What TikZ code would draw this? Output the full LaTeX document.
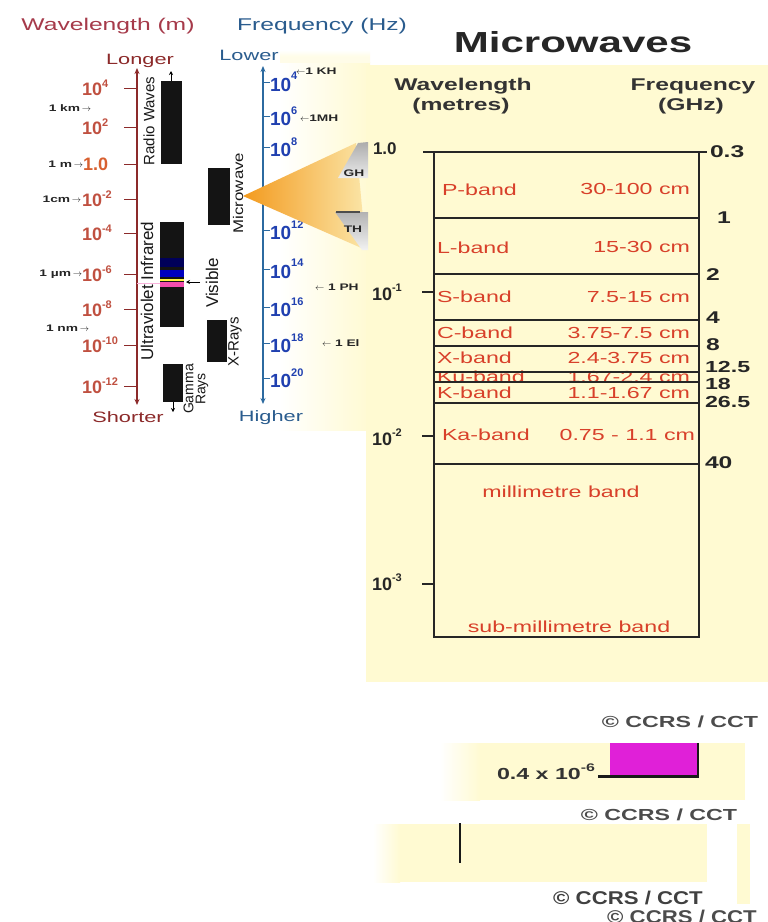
\documentclass[tikz,border=0pt]{standalone}
\usepackage{fontspec}
\setmainfont{Liberation Sans}
\newfontfamily\fsw{Liberation Sans}[FakeStretch=1.45]
\newfontfamily\fsm{Liberation Sans}[FakeStretch=1.2]
\usetikzlibrary{arrows.meta}
\newcommand\myfz[1]{\fontsize{#1}{#1}\selectfont}
\newcommand\mysup[2]{\raisebox{#1}{\myfz{11}#2}}
\definecolor{wlred}{HTML}{A63A4A}
\definecolor{wlaxis}{HTML}{8C2A2A}
\definecolor{wlnum}{HTML}{C05040}
\definecolor{wlone}{HTML}{D86030}
\definecolor{fqblue}{HTML}{2A5C8E}
\definecolor{fqaxis}{HTML}{2C6AA0}
\definecolor{fqnum}{HTML}{2040B0}
\definecolor{pale}{HTML}{FFFAD2}
\definecolor{bandred}{HTML}{D8402A}
\definecolor{orng}{HTML}{F39A1E}
\definecolor{orpale}{HTML}{FBE6A8}
\definecolor{mag}{HTML}{E020D8}
\tikzset{
  wlnumst/.style={anchor=west, text=wlnum, font=\myfz{18}\bfseries},
  fqnumst/.style={anchor=west, text=fqnum, font=\myfz{19}\bfseries},
  smallst/.style={font=\fsw\myfz{9.5}\bfseries, text=black!85},
  bandst/.style={text=bandred, font=\fsw\myfz{16}},
  gzst/.style={anchor=west, font=\fsw\myfz{17}\bfseries, text=black!85},
  boxline/.style={line width=1.6pt, black!85},
  copyst/.style={font=\fsw\myfz{16}\bfseries, text=black!70},
  barst/.style={fill=black!92},
  rotst/.style={rotate=90, text=black!90},
  headst/.style={font=\fsw\myfz{17}\bfseries, text=black!80},
  tips/.style={{Stealth[length=6pt,width=5pt]}-{Stealth[length=6pt,width=5pt]}}
}
\begin{document}
\begin{tikzpicture}[x=1pt,y=-1pt, every node/.style={inner sep=0pt, outer sep=0pt}]
\useasboundingbox (0,0) rectangle (768,922);
\fill[white] (0,0) rectangle (768,922);
% backgrounds
\shade[left color=white, right color=pale] (280,62) rectangle (370,430);
\shade[top color=white, bottom color=pale!50!white, middle color=pale!50!white] (280,50) rectangle (370,62);
\fill[pale] (366,65) rectangle (768,682);

% ---------- wavelength axis ----------
\node[text=wlred, font=\fsw\myfz{17}] (wlt) at (108,26) {Wavelength (m)};
\node[text=fqblue, font=\fsw\myfz{17}] (fqt) at (322,26) {Frequency (Hz)};
\node[text=wlaxis, font=\fsw\myfz{15}] (longer) at (140,61) {Longer};
\node[text=wlaxis, font=\fsw\myfz{15}] (shorter) at (128,417) {Shorter};
\node[text=fqblue, font=\fsw\myfz{15}] (lower) at (249,55) {Lower};
\node[text=fqblue, font=\fsw\myfz{15}] (higher) at (271,418) {Higher};

\coordinate (wltop) at (137,68);
\coordinate (wlbot) at (137,405);
\draw[wlaxis, line width=1.2pt, tips] (wltop) -- (wlbot);
\foreach \y/\e in {88/4,127/2,199/-2,233/-4,274/-6,309/-8,345/-10,386/-12} {
  \draw[wlaxis, line width=1pt] (124,\y) -- (137,\y);
  \node[wlnumst] (wl\e) at (82,\y) {10\mysup{0.45em}{\e}};
}
\draw[wlaxis, line width=1pt] (124,164) -- (137,164);
\node[wlnumst, text=wlone] (wlone) at (83,164) {1.0};

\node[smallst, anchor=east] (km) at (91,108) {1 km\,$\rightarrow$};
\node[smallst, anchor=east] (m) at (83,164) {1 m\,$\rightarrow$};
\node[smallst, anchor=east] (cm) at (81,199) {1cm\,$\rightarrow$};
\node[smallst, anchor=east] (um) at (82,274) {1 µm\,$\rightarrow$};
\node[smallst, anchor=east] (nm) at (89,328) {1 nm\,$\rightarrow$};

% bars
\fill[barst] (161,81) rectangle (182,164);
\coordinate (radtop) at (171,81);
\coordinate (radarr) at (171,71);
\draw[line width=0.9pt, -{Stealth[length=4pt,width=4pt]}] (radtop) -- (radarr);
\node[rotst, font=\myfz{15}] (radio) at (149,121) {Radio Waves};

\fill[barst] (160,222) rectangle (184,327);
\fill[blue!35!black] (160,258) rectangle (184,267);
\fill[blue!75!black] (160,270) rectangle (184,277);
\fill[yellow!75] (160,278.5) rectangle (184,281);
\fill[magenta!70] (160,282) rectangle (184,286.5);
\draw[magenta!30, line width=1pt] (137,283) -- (160,283);
\node[rotst, font=\myfz{17}] (uvir) at (147,291) {Ultraviolet Infrared};
\coordinate (visA) at (200,282);
\coordinate (visB) at (186,282);
\draw[line width=0.9pt, -{Stealth[length=4pt,width=4pt]}] (visA) -- (visB);
\node[rotst, font=\myfz{17}] (vis) at (212,283) {Visible};

\fill[barst] (207,320) rectangle (227,362);
\node[rotst, font=\myfz{15}] (xray) at (235,342) {X-Rays};

\fill[barst] (163,364) rectangle (183,402);
\coordinate (gbot) at (173,402);
\coordinate (garr) at (173,412);
\draw[line width=0.9pt, -{Stealth[length=4pt,width=4pt]}] (gbot) -- (garr);
\node[rotst, font=\myfz{14}, align=center] (gamma) at (196,389) {Gamma\\[-2pt]Rays};

\fill[barst] (208,168) rectangle (230,225);
\node[rotst, font=\fsm\myfz{14}] (micro) at (238,193) {Microwave};

% ---------- frequency axis ----------
\coordinate (fqtop) at (263,66);
\coordinate (fqbot) at (263,404);
\draw[fqaxis, line width=1.2pt, tips] (fqtop) -- (fqbot);
\foreach \y/\e in {82/4,116/6,147/8,189/10,230/12,269/14,307/16,343/18,378/20} {
  \draw[fqaxis, line width=1pt] (263,\y) -- (270,\y);
  \node[fqnumst] (fq\e) at (270,\y) {10\mysup{0.6em}{\e}};
}
\node[smallst, anchor=west] (khz) at (296,71) {$\leftarrow$1 KH};
\node[smallst, anchor=west] (mhz) at (300,118) {$\leftarrow$1MH};
\node[smallst, anchor=west] (phz) at (315,287) {$\leftarrow$ 1 PH};
\node[smallst, anchor=west] (ehz) at (322,343) {$\leftarrow$ 1 El};

% big arrow
\shade[left color=orng, right color=orpale] (243,196) -- (356,143) -- (366,250) -- cycle;
\shade[top color=gray!65, bottom color=gray!15] (338,178) -- (358,143) -- (368,142) -- (368,178) -- cycle;
\shade[top color=gray!60, bottom color=gray!10] (335,212) -- (368,212) -- (368,250) -- (362,250) -- cycle;
\draw[black!70, line width=1.2pt] (336,212) -- (360,212);
\node[smallst] (ghz) at (354,173) {GH};
\node[smallst] (thz) at (353,229) {TH};

% ---------- microwave panel ----------
\node[font=\fsw\myfz{29}\bfseries, text=black!85] (title) at (573,42) {Microwaves};
\node[headst] (wlh1) at (463,86) {Wavelength};
\node[headst] (wlh2) at (461,106) {(metres)};
\node[headst] (fqh1) at (693,86) {Frequency};
\node[headst] (fqh2) at (691,106) {(GHz)};

% band labels
\node[bandst, anchor=west] (p) at (442,190) {P-band};
\node[bandst, anchor=east] (pw) at (690,189) {30-100 cm};
\node[bandst, anchor=west] (l) at (437,248) {L-band};
\node[bandst, anchor=east] (lw) at (690,247) {15-30 cm};
\node[bandst, anchor=west] (s) at (437,297) {S-band};
\node[bandst, anchor=east] (sw) at (690,297) {7.5-15 cm};
\node[bandst, anchor=west] (c) at (437,333) {C-band};
\node[bandst, anchor=east] (cw) at (690,333) {3.75-7.5 cm};
\node[bandst, anchor=west] (x) at (437,358) {X-band};
\node[bandst, anchor=east] (xw) at (690,358) {2.4-3.75 cm};
\node[bandst, anchor=west] (ku) at (437,377) {Ku-band};
\node[bandst, anchor=east] (kuw) at (690,377) {1.67-2.4 cm};
\node[bandst, anchor=west] (k) at (437,393) {K-band};
\node[bandst, anchor=east] (kw) at (690,393) {1.1-1.67 cm};
\node[bandst, anchor=west] (ka) at (442,435) {Ka-band};
\node[bandst, anchor=east] (kaw) at (695,435) {0.75 - 1.1 cm};
\node[bandst] (mm) at (561,492) {millimetre band};
\node[bandst] (smm) at (569,627) {sub-millimetre band};

% box
\coordinate (bTL) at (434,152);
\coordinate (bTR) at (699,152);
\coordinate (bBL) at (434,637);
\coordinate (bBR) at (699,637);
\draw[boxline] (423,152) -- (707,152);
\draw[boxline] (bTL) -- (bBL) -- (bBR) -- (bTR);
\foreach \y in {218,274,320,346,372,382,403,464} {
  \draw[boxline] (434,\y) -- (699,\y);
}
\foreach \y in {292,436,584} {
  \draw[boxline] (422,\y) -- (434,\y);
}
\node[anchor=west, font=\myfz{17}\bfseries, text=black!85] (w0) at (373,149) {1.0};
\node[anchor=west, font=\myfz{18}\bfseries, text=black!85] (w1) at (372,292) {10\mysup{0.5em}{-1}};
\node[anchor=west, font=\myfz{18}\bfseries, text=black!85] (w2) at (372,437) {10\mysup{0.5em}{-2}};
\node[anchor=west, font=\myfz{18}\bfseries, text=black!85] (w3) at (372,582) {10\mysup{0.5em}{-3}};

\node[gzst] (g03) at (710,152) {0.3};
\node[gzst] (g1) at (717,218) {1};
\node[gzst] (g2) at (706,275) {2};
\node[gzst] (g4) at (706,318) {4};
\node[gzst] (g8) at (706,345) {8};
\node[gzst, font=\fsw\myfz{16}\bfseries] (g125) at (705,367) {12.5};
\node[gzst, font=\fsw\myfz{16}\bfseries] (g18) at (705,384) {18};
\node[gzst, font=\fsw\myfz{16}\bfseries] (g265) at (705,402) {26.5};
\node[gzst] (g40) at (705,463) {40};

% ---------- bottom fragments ----------
\node[copyst] (cc1) at (680,722) {© CCRS / CCT};
\shade[left color=white, right color=pale] (440,743) rectangle (480,800);
\fill[pale] (480,743) rectangle (745,800);
\fill[mag] (610,743) rectangle (698,777);
\coordinate (mA) at (598,776.5);
\coordinate (mB) at (698,776.5);
\coordinate (mC) at (698,743);
\draw[line width=2.5pt, black!90] (mA) -- (mB) -- (mC);
\node[anchor=west, font=\fsw\myfz{16}\bfseries, text=black!80] (scale) at (497,772) {0.4 x 10\mysup{0.5em}{-6}};
\node[copyst] (cc2) at (659,815) {© CCRS / CCT};

\shade[left color=white, right color=pale] (373,824) rectangle (400,882);
\fill[pale] (400,824) rectangle (707,882);
\fill[pale] (737,824) rectangle (750,904);
\coordinate (vA) at (460,823);
\coordinate (vB) at (460,863);
\draw[line width=2pt, black!90] (vA) -- (vB);

\node[font=\fsm\myfz{18.5}\bfseries, text=black!70] (cc4) at (682,917) {© CCRS / CCT};
\fill[white] (553,884) rectangle (737,909);
\node[font=\fsm\myfz{18.5}\bfseries, text=black!75] (cc3) at (628,898) {© CCRS / CCT};
\end{tikzpicture}
\end{document}
